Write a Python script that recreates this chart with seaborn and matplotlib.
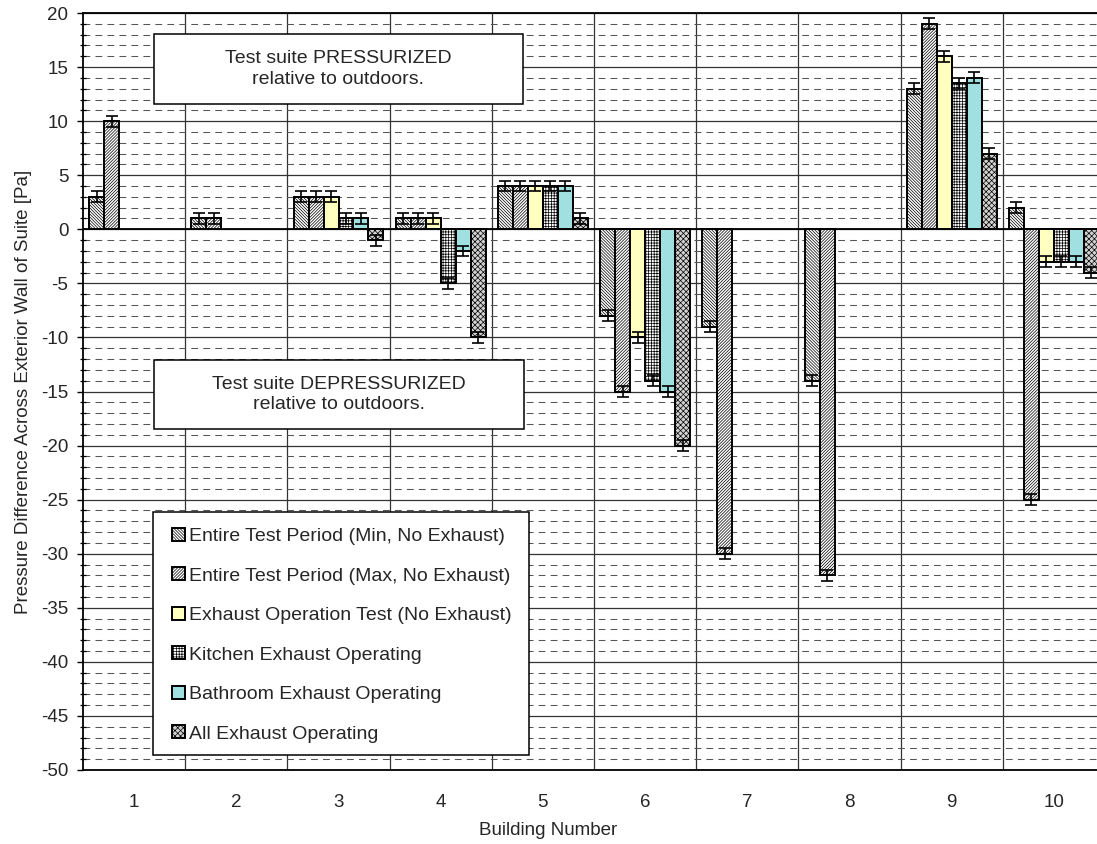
import numpy as np
import pandas as pd
import matplotlib
matplotlib.use("Agg")
import matplotlib.pyplot as plt
from matplotlib.patches import Rectangle
from matplotlib.ticker import MultipleLocator
import seaborn as sns

# ---------------- data ----------------
buildings = ["1", "2", "3", "4", "5", "6", "7", "8", "9", "10"]
series_names = [
    "Entire Test Period (Min, No Exhaust)",
    "Entire Test Period (Max, No Exhaust)",
    "Exhaust Operation Test (No Exhaust)",
    "Kitchen Exhaust Operating",
    "Bathroom Exhaust Operating",
    "All Exhaust Operating",
]
nan = np.nan
min_no_exhaust = [3, 1, 3, 1, 4, -8, -9, -14, 13, 2]
max_no_exhaust = [10, 1, 3, 1, 4, -15, -30, -32, 19, -25]
exhaust_test = [nan, nan, 3, 1, 4, -10, nan, nan, 16, -3]
kitchen = [nan, nan, 1, -5, 4, -14, nan, nan, 13.5, -3]
bathroom = [nan, nan, 1, -2, 4, -15, nan, nan, 14, -3]
all_exhaust = [nan, nan, -1, -10, 1, -20, nan, nan, 7, -4]
error_half = 0.5
y_ticks = list(range(-50, 25, 5))

x_label = "Building Number"
y_label = "Pressure Difference Across Exterior Wall of Suite [Pa]"
box_top_text = "Test suite PRESSURIZED\nrelative to outdoors."
box_bottom_text = "Test suite DEPRESSURIZED\nrelative to outdoors."

# ---------------- styles ----------------
face_colors = ["#ffffff", "#ffffff", "#ffffc0", "#ffffff", "#a0e0e0", "#d2d2d2"]
hatches = ["\\" * 11, "/" * 11, "", "+" * 6, "", "x" * 6]

sns.set_style("white")
plt.rcParams["font.family"] = ["Liberation Sans", "DejaVu Sans"]
plt.rcParams["axes.unicode_minus"] = False
plt.rcParams["hatch.linewidth"] = 0.5

values = [min_no_exhaust, max_no_exhaust, exhaust_test, kitchen, bathroom, all_exhaust]
rows = []
for name, vals in zip(series_names, values):
    for b, v in zip(buildings, vals):
        rows.append({"Building": b, "Series": name, "Value": v})
df = pd.DataFrame(rows).dropna()

fig = plt.figure(figsize=(10.97, 8.44), dpi=100)
W, H = 1097, 844
ax_l, ax_r, ax_t, ax_b = 83, 1105, 13, 770
ax = fig.add_axes([ax_l / W, 1 - ax_b / H, (ax_r - ax_l) / W, (ax_b - ax_t) / H])

sns.barplot(
    data=df, x="Building", y="Value", hue="Series",
    order=buildings, hue_order=series_names, palette=face_colors,
    width=0.88, edgecolor="black", linewidth=1.4, errorbar=None,
    legend=False, ax=ax, zorder=3, saturation=1,
)

for cont, hatch in zip(ax.containers, hatches):
    for p in cont.patches:
        p.set_hatch(hatch)
        cx = p.get_x() + p.get_width() / 2
        h = p.get_height()
        ax.errorbar(cx, h, yerr=error_half, fmt="none", ecolor="black",
                    elinewidth=1.2, capsize=4.5, capthick=1.2, zorder=4)

ax.set_xlim(-0.5, len(buildings) - 0.5)
ax.set_ylim(min(y_ticks), max(y_ticks))
ax.set_yticks(y_ticks)
ax.yaxis.set_minor_locator(MultipleLocator(1))
ax.set_xticks(range(len(buildings)))
ax.set_xticklabels(buildings)
ax.set_xticks(np.arange(0.5, len(buildings) - 0.5, 1), minor=True)

ax.set_axisbelow(True)
ax.grid(axis="y", which="major", color="#333333", linewidth=0.9, linestyle="-")
ax.grid(axis="y", which="minor", color="#555555", linewidth=0.75, linestyle=(0, (6.5, 5)))
ax.grid(axis="x", which="minor", color="#333333", linewidth=0.9, linestyle="-")
ax.grid(axis="x", which="major", visible=False)
ax.axhline(0, color="black", linewidth=1.3, zorder=3.5)

ax.tick_params(axis="y", which="major", direction="out", length=4.5, width=1,
               color="black", labelsize=13.5, pad=6, left=True)
ax.tick_params(axis="y", which="minor", direction="inout", length=4.5, width=0.9,
               color="black", left=True)
ax.tick_params(axis="x", which="both", length=0, labelsize=13.5, pad=17)

for s in ["left", "bottom", "top"]:
    ax.spines[s].set_visible(True)
    ax.spines[s].set_color("black")
    ax.spines[s].set_linewidth(1.3)
ax.spines["right"].set_visible(False)

ax.set_xlabel(x_label, fontsize=13.5)
ax.set_ylabel(y_label, fontsize=13.5)
ax.xaxis.set_label_coords((548 - ax_l) / (ax_r - ax_l), (ax_b - 822) / (ax_b - ax_t))
ax.yaxis.set_label_coords((32 - ax_l) / (ax_r - ax_l), 0.5)


def px_box(x0, y0, x1, y1):
    fx0 = (x0 - ax_l) / (ax_r - ax_l)
    fx1 = (x1 - ax_l) / (ax_r - ax_l)
    fy0 = (ax_b - y1) / (ax_b - ax_t)
    fy1 = (ax_b - y0) / (ax_b - ax_t)
    return fx0, fy0, fx1 - fx0, fy1 - fy0


for (x0, y0, x1, y1), txt in [((154, 34, 523, 104), box_top_text),
                              ((154, 360, 524, 429), box_bottom_text)]:
    fx, fy, fw, fh = px_box(x0, y0, x1, y1)
    ax.add_patch(Rectangle((fx, fy), fw, fh, transform=ax.transAxes,
                           facecolor="white", edgecolor="black", linewidth=1.1, zorder=6))
    ax.text(fx + fw / 2, fy + fh / 2, txt, transform=ax.transAxes, ha="center",
            va="center", fontsize=14, linespacing=1.3, zorder=7)

fx, fy, fw, fh = px_box(153, 512, 529, 755)
ax.add_patch(Rectangle((fx, fy), fw, fh, transform=ax.transAxes,
                       facecolor="white", edgecolor="black", linewidth=1.1, zorder=6))
leg = ax.legend(list(ax.containers), series_names, loc="upper left",
                bbox_to_anchor=((172 - ax_l) / (ax_r - ax_l), (ax_b - 528) / (ax_b - ax_t)),
                frameon=False, fontsize=14, borderpad=0, borderaxespad=0,
                handlelength=0.65, handleheight=0.65, handletextpad=0.2,
                labelspacing=1.14)
leg.set_zorder(7)

fig.savefig("out.png", dpi=100)
